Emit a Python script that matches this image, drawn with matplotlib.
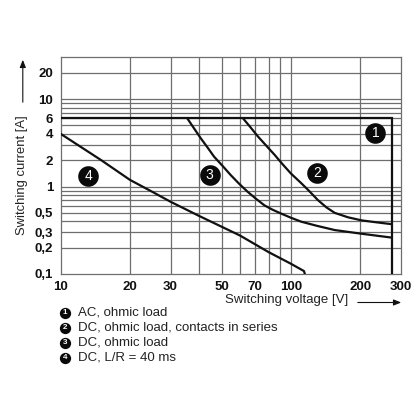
import matplotlib
matplotlib.use("Agg")
import matplotlib.pyplot as plt
from matplotlib.ticker import FixedLocator, NullLocator, FixedFormatter

plt.rcParams['font.family'] = ['Liberation Sans', 'DejaVu Sans']

# ---- data ----
v1 = [10, 275, 275]
i1 = [6, 6, 0.1]

v2 = [62, 67, 72, 78, 85, 92, 100, 111, 119, 131, 143, 155, 177, 203, 235, 270]
i2 = [6, 4.7, 3.72, 2.95, 2.30, 1.80, 1.41, 1.09, 0.91, 0.70, 0.575, 0.50,
      0.445, 0.41, 0.39, 0.373]

v3 = [35.5, 38, 40.6, 43.5, 46.4, 50.5, 54.8, 59.5, 64.9, 70.5, 76.7, 83,
      90.8, 100, 111, 130, 155, 200, 270]
i3 = [6, 4.6, 3.56, 2.78, 2.19, 1.72, 1.35, 1.08, 0.87, 0.725, 0.61, 0.545,
      0.49, 0.44, 0.396, 0.355, 0.318, 0.29, 0.262]

v4 = [10, 15, 20, 25, 30, 40, 60, 80, 100, 114, 115]
i4 = [4, 2.0, 1.19, 0.87, 0.67, 0.46, 0.276, 0.178, 0.131, 0.108, 0.1]

curve_ids = ['1', '2', '3', '4']
marker_v = [233, 130, 44.4, 13.2]
marker_i = [4.1, 1.43, 1.34, 1.33]

legend_texts = ['AC, ohmic load', 'DC, ohmic load, contacts in series',
                'DC, ohmic load', 'DC, L/R = 40 ms']

x_ticks = [10, 20, 30, 50, 70, 100, 200, 300]
x_ticklabels = ['10', '20', '30', '50', '70', '100', '200', '300']
x_grid = [20, 30, 40, 50, 60, 70, 80, 90, 100, 200]

y_ticks = [0.1, 0.2, 0.3, 0.5, 1, 2, 4, 6, 10, 20]
y_ticklabels = ['0,1', '0,2', '0,3', '0,5', '1', '2', '4', '6', '10', '20']
y_grid = [0.2, 0.3, 0.4, 0.5, 0.6, 0.7, 0.8, 0.9, 1, 2, 3, 4, 5, 6, 7, 8, 9, 10, 20]

# ---- figure ----
W = H = 416
fig = plt.figure(figsize=(4.16, 4.16), dpi=100)
fig.patch.set_facecolor('white')
L, R, T, B = 60.7, 400.7, 57.3, 274.0
ax = fig.add_axes([L / W, 1 - B / H, (R - L) / W, (B - T) / H])
ax.set_xscale('log')
ax.set_yscale('log')
ax.set_xlim(10, 300)
ax.set_ylim(0.1, 30)

gcol = '#6e6e6e'
for xv in x_grid:
    ax.axvline(xv, color=gcol, lw=0.9, zorder=1)
for yv in y_grid:
    ax.axhline(yv, color=gcol, lw=0.9, zorder=1)
for s in ax.spines.values():
    s.set_color(gcol)
    s.set_linewidth(0.9)

ax.xaxis.set_major_locator(FixedLocator(x_ticks))
ax.xaxis.set_major_formatter(FixedFormatter(x_ticklabels))
ax.xaxis.set_minor_locator(NullLocator())
ax.yaxis.set_major_locator(FixedLocator(y_ticks))
ax.yaxis.set_major_formatter(FixedFormatter(y_ticklabels))
ax.yaxis.set_minor_locator(NullLocator())
ax.tick_params(axis='both', length=0, labelsize=9.5, colors='#111111')
ax.tick_params(axis='x', pad=5.0)
ax.tick_params(axis='y', pad=5.5)
for lab in ax.get_xticklabels() + ax.get_yticklabels():
    lab.set_fontweight('bold')

lw = 1.6
ax.plot(v1, i1, color='#111111', lw=lw, zorder=3, solid_joinstyle='miter')
ax.plot(v2, i2, color='#111111', lw=lw, zorder=3)
ax.plot(v3, i3, color='#111111', lw=lw, zorder=3)
ax.plot(v4, i4, color='#111111', lw=lw, zorder=3)

ax.scatter(marker_v, marker_i, s=220, color='#0a0a0a', zorder=4, linewidths=0)
for cid, mv, mi in zip(curve_ids, marker_v, marker_i):
    ax.text(mv, mi, cid, color='white', fontsize=10, ha='center', va='center',
            zorder=5)

# ---- axis labels with arrows ----
fig.text(22.5 / W, 1 - 175 / H, 'Switching current [A]', rotation=90,
         ha='center', va='center', fontsize=9.4, color='#222222')
fig.add_artist(matplotlib.patches.FancyArrowPatch(
    (22.8 / W, 1 - 105 / H), (22.8 / W, 1 - 57 / H),
    transform=fig.transFigure, arrowstyle='-|>,head_length=4.5,head_width=1.8',
    mutation_scale=1, color='#111111', lw=0.8))

fig.text(286.5 / W, 1 - 300 / H, 'Switching voltage [V]', ha='center',
         va='center', fontsize=9.5, color='#222222')
fig.add_artist(matplotlib.patches.FancyArrowPatch(
    (355 / W, 1 - 302.5 / H), (404 / W, 1 - 302.5 / H),
    transform=fig.transFigure, arrowstyle='-|>,head_length=4.5,head_width=1.8',
    mutation_scale=1, color='#111111', lw=0.8))

# ---- legend below ----
over = fig.add_axes([0, 0, 1, 1], zorder=10)
over.set_xlim(0, W)
over.set_ylim(H, 0)
over.axis('off')
row_y = [312.5, 327.5, 342.5, 357.5]
for cid, txt, ry in zip(curve_ids, legend_texts, row_y):
    over.scatter([65], [ry], s=66, color='#0a0a0a', linewidths=0)
    over.text(65, ry + 0.3, cid, color='white', fontsize=5.8, fontweight='bold',
              ha='center', va='center')
    over.text(78.5, ry, txt, fontsize=9.5, ha='left', va='center',
              color='#222222')

fig.savefig('out.png', dpi=100, facecolor='white')
